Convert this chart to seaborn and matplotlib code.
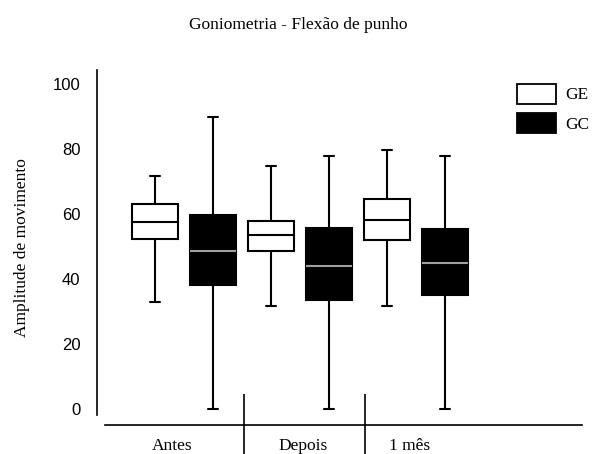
import numpy as np
import pandas as pd
import matplotlib
matplotlib.use("Agg")
import matplotlib.pyplot as plt
import seaborn as sns
from matplotlib.patches import Patch

# five-number summaries: min, Q1, median, Q3, max
momentos = ["Antes", "Depois", "1 mês"]
grupos = ["GE", "GC"]
ge_antes = [33, 52.3, 57.5, 63.1, 71.6]
ge_depois = [31.8, 48.5, 53.4, 57.8, 74.8]
ge_1mes = [31.8, 51.9, 58.3, 64.6, 79.6]
gc_antes = [0, 38.3, 48.5, 59.7, 89.7]
gc_depois = [0, 33.6, 43.9, 55.6, 77.7]
gc_1mes = [0, 35.2, 45.0, 55.3, 77.7]
y_ticks = [0, 20, 40, 60, 80, 100]

rows = []
for g, series in zip(grupos, [[ge_antes, ge_depois, ge_1mes], [gc_antes, gc_depois, gc_1mes]]):
    for m, vals in zip(momentos, series):
        for v in vals:
            rows.append({"momento": m, "grupo": g, "valor": v})
df = pd.DataFrame(rows)

sns.set_style("white")
plt.rcParams["text.color"] = "black"
plt.rcParams["xtick.color"] = "black"
plt.rcParams["ytick.color"] = "black"
plt.rcParams["axes.labelcolor"] = "black"
serif = ["Liberation Serif", "DejaVu Serif"]
narrow = ["Liberation Sans Narrow", "Liberation Sans", "DejaVu Sans"]

fig = plt.figure(figsize=(6.04, 4.54), dpi=100)
ax = fig.add_axes([97 / 604, 1 - 425 / 454, 485 / 604, 355 / 454])

pal = {"GE": "white", "GC": "black"}
med_col = {"GE": "black", "GC": "#a0a0a0"}
for g in grupos:
    sns.boxplot(data=df[df.grupo == g], x="momento", y="valor", hue="grupo",
                order=momentos, hue_order=grupos, palette=pal, dodge=True,
                width=1.0, gap=0.19,
                whis=(0, 100), linecolor="black", linewidth=1.5, legend=False,
                capwidths=0.09,
                medianprops={"color": med_col[g], "linewidth": 1.5},
                ax=ax)

ax.set_xlim(-0.75, 3.431)
ax.set_ylim(-4.9, 104.3)

for s in ["top", "right"]:
    ax.spines[s].set_visible(False)
ax.spines["left"].set_bounds(-1.8, 104.3)
ax.spines["bottom"].set_bounds(-0.677, 3.431)
for s in ["left", "bottom"]:
    ax.spines[s].set_color("black")
    ax.spines[s].set_linewidth(1.2)

ax.set_yticks(y_ticks)
ax.set_yticklabels([str(t) for t in y_ticks], family=narrow, fontsize=12)
ax.tick_params(axis="y", length=0, pad=12)

# separators between periods, labels between them
ax.set_xticks([0.517, 1.56])
ax.set_xticklabels(["", ""])
ax.tick_params(axis="x", which="major", bottom=True, direction="inout", length=45,
               width=1.2, color="black")
ax.set_xticks([-0.103, 1.026, 1.948], minor=True)
ax.set_xticklabels(momentos, minor=True, family=serif, fontsize=12.5)
ax.tick_params(axis="x", which="minor", bottom=True, length=0, pad=9)

ax.set_xlabel("")
ax.set_ylabel("Amplitude de movimento", family=serif, fontsize=12.5, labelpad=16)

fig.suptitle("Goniometria - Flexão de punho", x=298 / 604, y=1 - 25 / 454,
             va="center", family=serif, fontsize=12.5)

handles = [Patch(facecolor="white", edgecolor="black", linewidth=1.3),
           Patch(facecolor="black", edgecolor="black", linewidth=1.3)]
leg = fig.legend(handles, grupos, loc="upper left", bbox_to_anchor=(508 / 604, 1 - 75 / 454),
                 frameon=False, borderpad=0, handlelength=2.25, handleheight=1.4,
                 handletextpad=0.55, labelspacing=0.55, prop={"family": serif, "size": 12.5})

fig.savefig("out.png", dpi=100)
